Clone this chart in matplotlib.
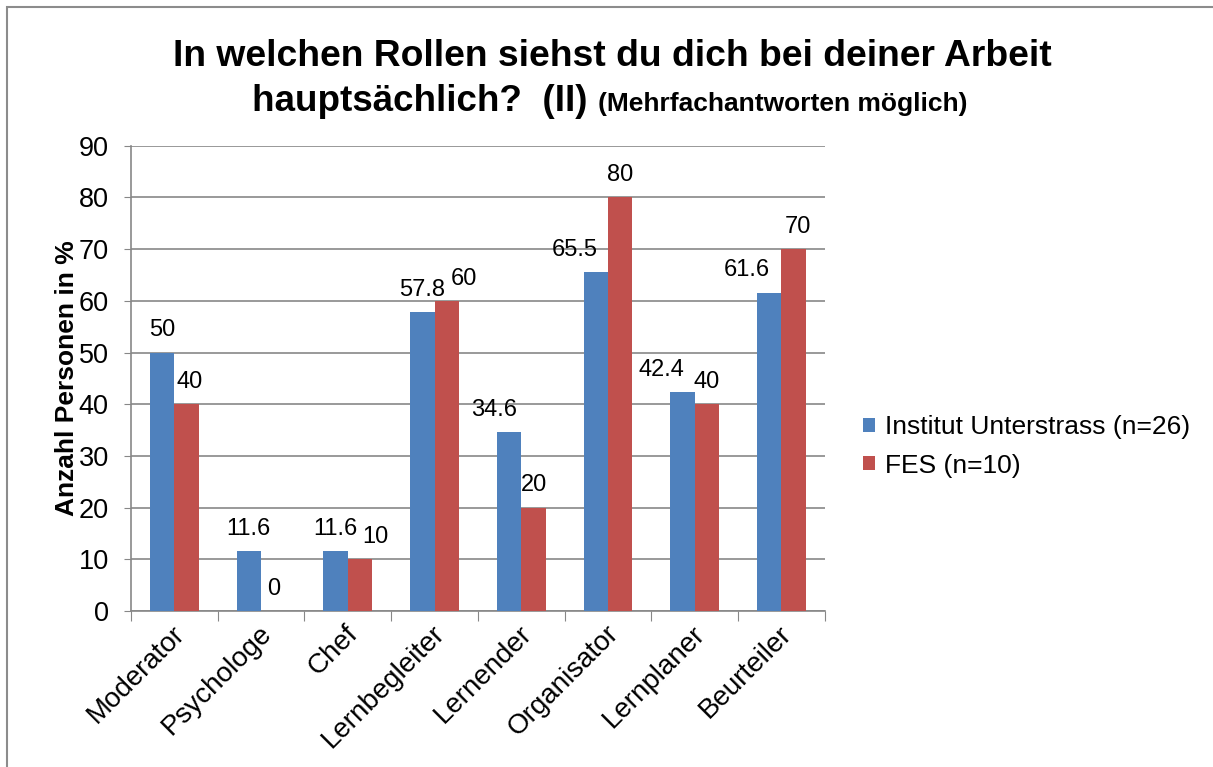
import matplotlib.pyplot as plt
from matplotlib.patches import Rectangle
import numpy as np

plt.rcParams['font.family'] = ['Liberation Sans', 'DejaVu Sans']

# data
categories = ["Moderator", "Psychologe", "Chef", "Lernbegleiter",
              "Lernender", "Organisator", "Lernplaner", "Beurteiler"]
unterstrass = [50, 11.6, 11.6, 57.8, 34.6, 65.5, 42.4, 61.6]
fes = [40, 0, 10, 60, 20, 80, 40, 70]
series_names = ["Institut Unterstrass (n=26)", "FES (n=10)"]

blue = "#4F81BD"
red = "#C0504D"
grid_col = "#878787"

# label nudges (points) to mimic the manual placement in the original
dx_blue = [0, 0, 0, 0, -11, -15, -15, -16]
dx_red = [2, 0, 11, 12, 0, 0, 0, 3]

fig = plt.figure(figsize=(12.13, 7.67), dpi=100)
ax = fig.add_axes([0.108, 0.2034, 0.572, 0.6066])

x = np.arange(len(categories))
w = 0.282
b1 = ax.bar(x - w / 2, unterstrass, w, color=blue, label=series_names[0], zorder=3)
b2 = ax.bar(x + w / 2, fes, w, color=red, label=series_names[1], zorder=3)

for bars, vals, dxs in [(b1, unterstrass, dx_blue), (b2, fes, dx_red)]:
    for bar, v, dx in zip(bars, vals, dxs):
        ax.annotate(f"{v:g}", (bar.get_x() + bar.get_width() / 2, v),
                    xytext=(dx, 16), textcoords="offset points",
                    ha="center", va="center", fontsize=17)

ax.set_ylim(0, 90)
ax.set_xlim(-0.5, len(categories) - 0.5)
ax.set_yticks(range(0, 91, 10))
ax.tick_params(axis="y", labelsize=19.5, length=5, color=grid_col, pad=11)
ax.yaxis.grid(True, color=grid_col, linewidth=1.2, zorder=0)
ax.set_axisbelow(True)

ax.set_xticks(np.arange(-0.5, len(categories), 1.0))
ax.set_xticklabels([])
ax.tick_params(axis="x", length=7, color=grid_col)
for i, c in enumerate(categories):
    ax.annotate(c, (i, 0), xytext=(-2, -7), textcoords="offset points",
                rotation=45, rotation_mode="anchor", ha="right", va="top",
                fontsize=20, annotation_clip=False)

for s in ["top", "right"]:
    ax.spines[s].set_visible(False)
for s in ["left", "bottom"]:
    ax.spines[s].set_color(grid_col)
    ax.spines[s].set_linewidth(1.2)

ax.set_ylabel("Anzahl Personen in %", fontsize=19, fontweight="bold", labelpad=0)

leg = fig.legend(handles=[b1, b2], labels=series_names,
                 loc="center left", bbox_to_anchor=(0.703, 0.418),
                 frameon=False, fontsize=19, handlelength=0.46, handleheight=0.46,
                 handletextpad=0.35, labelspacing=0.55, borderaxespad=0)

# title
fig.text(0.505, 1 - 66 / 767, "In welchen Rollen siehst du dich bei deiner Arbeit",
         ha="center", va="baseline", fontsize=26.8, fontweight="bold")
fig.text(588 / 1213, 1 - 111 / 767, "hauptsächlich?  (II)",
         ha="right", va="baseline", fontsize=26.5, fontweight="bold")
fig.text(598 / 1213, 1 - 111 / 767, "(Mehrfachantworten möglich)",
         ha="left", va="baseline", fontsize=19, fontweight="bold")

# chart border (right and bottom edges run off the picture)
fig.patches.append(Rectangle((7 / 1213, -0.05), 1.1, 1.05 - 7 / 767,
                             transform=fig.transFigure, fill=False,
                             edgecolor="#8c8c8c", linewidth=1.5))

fig.savefig("out.png", dpi=100)
